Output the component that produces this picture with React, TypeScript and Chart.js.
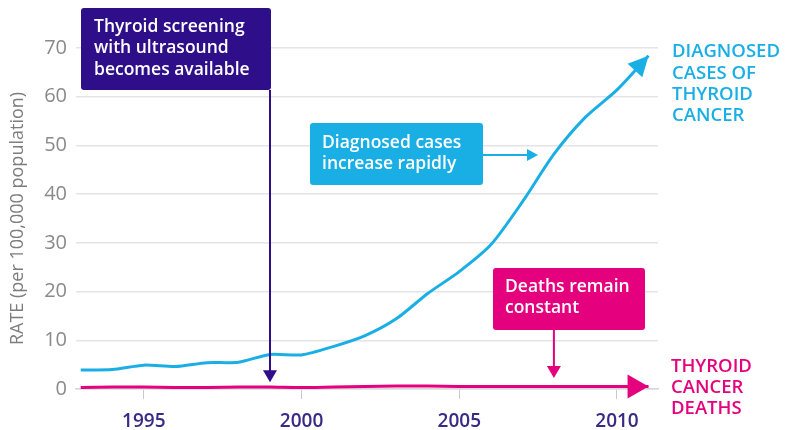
import React, { useEffect, useRef } from "react";
import { Chart, registerables } from "chart.js";

Chart.register(...registerables);

const years = [1993, 1994, 1995, 1996, 1997, 1998, 1999, 2000, 2001, 2002, 2003, 2004, 2005, 2006, 2007, 2008, 2009, 2010, 2011];
const diagnosedCases = [3.9, 4.0, 4.9, 4.6, 5.4, 5.5, 7.1, 7.0, 8.7, 10.9, 14.4, 19.6, 24.1, 29.6, 38.4, 48.2, 55.8, 61.4, 68.4];
const cancerDeaths = [0.3, 0.4, 0.4, 0.3, 0.3, 0.4, 0.4, 0.3, 0.4, 0.5, 0.6, 0.6, 0.5, 0.5, 0.5, 0.5, 0.5, 0.5, 0.5];
const xTickYears = [1995, 2000, 2005, 2010];
const yTickValues = [0, 10, 20, 30, 40, 50, 60, 70];

const screeningYear = 1999;
const deathsNoteYear = 2008;
const yAxisTitle = "RATE (per 100,000 population)";
const screeningText = ["Thyroid screening", "with ultrasound", "becomes available"];
const casesNoteText = ["Diagnosed cases", "increase rapidly"];
const deathsNoteText = ["Deaths remain", "constant"];
const casesLabel = ["DIAGNOSED", "CASES OF", "THYROID", "CANCER"];
const deathsLabel = ["THYROID", "CANCER", "DEATHS"];

const PURPLE = "#2f0e8a";
const CYAN = "#19afe5";
const MAGENTA = "#e5007d";
const FONT = "'Open Sans', sans-serif";

function roundRect(ctx: CanvasRenderingContext2D, x: number, y: number, w: number, h: number, r: number) {
  ctx.beginPath();
  ctx.moveTo(x + r, y);
  ctx.lineTo(x + w - r, y);
  ctx.quadraticCurveTo(x + w, y, x + w, y + r);
  ctx.lineTo(x + w, y + h - r);
  ctx.quadraticCurveTo(x + w, y + h, x + w - r, y + h);
  ctx.lineTo(x + r, y + h);
  ctx.quadraticCurveTo(x, y + h, x, y + h - r);
  ctx.lineTo(x, y + r);
  ctx.quadraticCurveTo(x, y, x + r, y);
  ctx.closePath();
}

function arrowHead(ctx: CanvasRenderingContext2D, tx: number, ty: number, angle: number, len: number, half: number, color: string) {
  ctx.save();
  ctx.translate(tx, ty);
  ctx.rotate(angle);
  ctx.beginPath();
  ctx.moveTo(0, 0);
  ctx.lineTo(-len, -half);
  ctx.lineTo(-len, half);
  ctx.closePath();
  ctx.fillStyle = color;
  ctx.fill();
  ctx.restore();
}

const annotationPlugin = {
  id: "annotations",
  afterDatasetsDraw(chart: any) {
    const ctx: CanvasRenderingContext2D = chart.ctx;
    const xs = chart.scales.x;
    const ys = chart.scales.y;
    ctx.save();

    const drawEnd = (data: number[], color: string, len: number, half: number) => {
      const n = data.length;
      const x1 = xs.getPixelForValue(years[n - 1]);
      const y1 = ys.getPixelForValue(data[n - 1]);
      const x0 = xs.getPixelForValue(years[n - 2]);
      const y0 = ys.getPixelForValue(data[n - 2]);
      arrowHead(ctx, x1, y1, Math.atan2(y1 - y0, x1 - x0), len, half, color);
    };
    drawEnd(diagnosedCases, CYAN, 20, 10);
    drawEnd(cancerDeaths, MAGENTA, 21, 12);

    ctx.textBaseline = "middle";
    ctx.textAlign = "left";
    const noteFont = `600 17.5px ${FONT}`;

    // Purple screening note
    const sx = xs.getPixelForValue(screeningYear);
    const pTop = 8, pBottom = 90;
    const pLeft = sx - 189;
    ctx.fillStyle = PURPLE;
    roundRect(ctx, pLeft, pTop, sx + 1 - pLeft, pBottom - pTop, 3);
    ctx.fill();
    ctx.strokeStyle = PURPLE;
    ctx.lineWidth = 2;
    ctx.beginPath();
    ctx.moveTo(sx, pBottom);
    ctx.lineTo(sx, ys.getPixelForValue(2.5));
    ctx.stroke();
    arrowHead(ctx, sx, ys.getPixelForValue(1.4), Math.PI / 2, 12, 7, PURPLE);
    ctx.fillStyle = "#ffffff";
    ctx.font = noteFont;
    screeningText.forEach((t, i) => ctx.fillText(t, pLeft + 13, 27 + i * 21.5));

    // Cyan note
    const cLeft = 310, cTop = 123, cW = 173, cH = 62;
    ctx.fillStyle = CYAN;
    roundRect(ctx, cLeft, cTop, cW, cH, 3);
    ctx.fill();
    ctx.strokeStyle = CYAN;
    ctx.lineWidth = 2;
    ctx.beginPath();
    ctx.moveTo(cLeft + cW, 155);
    ctx.lineTo(528, 155);
    ctx.stroke();
    arrowHead(ctx, 538, 155, 0, 11, 6, CYAN);
    ctx.fillStyle = "#ffffff";
    casesNoteText.forEach((t, i) => ctx.fillText(t, cLeft + 12, 143 + i * 21));

    // Magenta note
    const dx = xs.getPixelForValue(deathsNoteYear);
    const mLeft = 493, mTop = 268, mW = 152, mH = 62;
    ctx.fillStyle = MAGENTA;
    roundRect(ctx, mLeft, mTop, mW, mH, 3);
    ctx.fill();
    ctx.strokeStyle = MAGENTA;
    ctx.lineWidth = 2;
    ctx.beginPath();
    ctx.moveTo(dx, mTop + mH);
    ctx.lineTo(dx, 368);
    ctx.stroke();
    arrowHead(ctx, dx, 378, Math.PI / 2, 12, 7, MAGENTA);
    ctx.fillStyle = "#ffffff";
    deathsNoteText.forEach((t, i) => ctx.fillText(t, mLeft + 12, 287 + i * 21));

    // Right labels
    ctx.font = `600 18.5px ${FONT}`;
    ctx.fillStyle = CYAN;
    casesLabel.forEach((t, i) => ctx.fillText(t, 672, 52 + i * 21.3));
    ctx.fillStyle = MAGENTA;
    deathsLabel.forEach((t, i) => ctx.fillText(t, 671, 367 + i * 20.7));

    ctx.restore();
  },
};

export default function App() {
  const ref = useRef<HTMLCanvasElement>(null);
  useEffect(() => {
    if (!ref.current) return;
    const chart = new Chart(ref.current, {
      type: "line",
      data: {
        datasets: [
          {
            label: "Diagnosed cases",
            data: years.map((y, i) => ({ x: y, y: diagnosedCases[i] })),
            borderColor: CYAN,
            borderWidth: 3,
            pointRadius: 0,
            tension: 0.25,
            fill: false,
          },
          {
            label: "Deaths",
            data: years.map((y, i) => ({ x: y, y: cancerDeaths[i] })),
            borderColor: MAGENTA,
            borderWidth: 3,
            pointRadius: 0,
            tension: 0.25,
            fill: false,
          },
        ],
      },
      options: {
        animation: false,
        responsive: false,
        maintainAspectRatio: false,
        layout: { padding: { top: 48, right: 130, left: 0, bottom: 0 } },
        plugins: { legend: { display: false }, tooltip: { enabled: false } },
        scales: {
          x: {
            type: "linear",
            min: 1992.85,
            max: 2011.3,
            afterBuildTicks: (axis: any) => {
              axis.ticks = xTickYears.map((v) => ({ value: v }));
            },
            afterFit: (axis: any) => {
              axis.height = 41;
            },
            grid: { drawOnChartArea: false, drawTicks: true, tickLength: 10, color: "#c9c9d2", lineWidth: 1 },
            border: { display: true, color: "#d5d5dc", width: 1.5 },
            ticks: {
              color: "#3a2a85",
              font: { family: FONT, size: 19, weight: "600" },
              padding: 11,
              callback: (v: any) => String(v),
              maxRotation: 0,
            },
          },
          y: {
            min: 0,
            max: 70,
            afterBuildTicks: (axis: any) => {
              axis.ticks = yTickValues.map((v) => ({ value: v }));
            },
            afterFit: (axis: any) => {
              axis.width = 76;
            },
            grid: { drawTicks: false, color: "#e3e3e8", lineWidth: 1.5 },
            border: { display: false },
            ticks: {
              color: "#8a8a8a",
              font: { family: FONT, size: 20 },
              padding: 9,
            },
            title: {
              display: true,
              text: yAxisTitle,
              color: "#7d7d7d",
              font: { family: FONT, size: 18 },
              padding: { top: 7, bottom: 0 },
            },
          },
        },
      },
      plugins: [annotationPlugin],
    } as any);
    return () => chart.destroy();
  }, []);
  return (
    <div style={{ position: "fixed", left: 0, top: 0, width: 788, height: 430, background: "#fff" }}>
      <canvas ref={ref} width={788} height={430} style={{ width: 788, height: 430, display: "block" }} />
    </div>
  );
}
